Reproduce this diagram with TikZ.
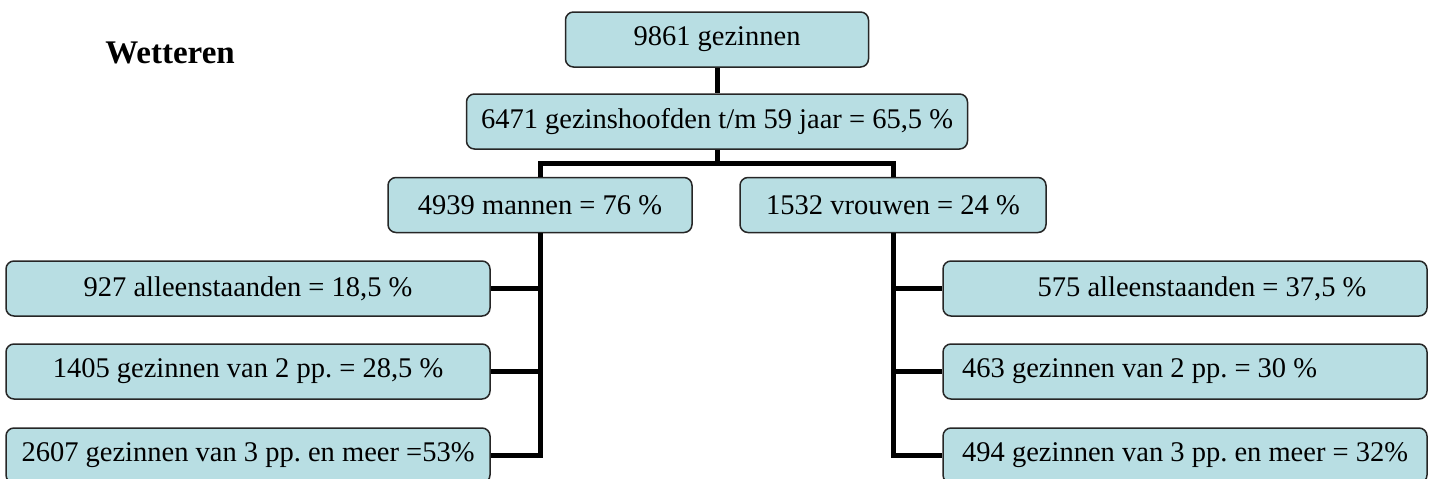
\documentclass[tikz,border=0pt]{standalone}
\usepackage{fontspec}
\setmainfont{Liberation Serif}
\frenchspacing
\definecolor{gezinblauw}{RGB}{184,222,227}
\tikzset{
	gezin/.style={draw=black!85, line width=1.5pt, fill=gezinblauw, rounded corners=8pt,
		minimum height=55pt, inner sep=0pt, font=\fontsize{28.5}{33}\selectfont},
	leaf/.style={gezin, minimum width=484pt},
	tekst/.style={inner sep=0pt, font=\fontsize{28.5}{33}\selectfont},
	tak/.style={line width=5pt},
}

\begin{document}
\begin{tikzpicture}[x=1pt, y=-1pt]

	% page in pixels, y going down
	\useasboundingbox (0,0) rectangle (1437,479);

	\node[font=\bfseries\fontsize{33}{38}\selectfont] (titel) at (170,53) {Wetteren};

	% the upper part of the tree
	\node[gezin, minimum width=303pt] (totaal) at (717,39.5) {9861 gezinnen};
	\node[gezin, minimum width=501pt] (hoofden) at (717,121.5) {6471 gezinshoofden t/m 59 jaar = 65,5 \%};
	\node[gezin, minimum width=304pt] (mannen) at (540,205) {4939 mannen = 76 \%};
	\node[gezin, minimum width=306pt] (vrouwen) at (893,205) {1532 vrouwen = 24 \%};

	% men, left column
	\node[leaf] (m1) at (248,288.5) {927 alleenstaanden = 18,5 \%};
	\node[leaf] (m2) at (248,371.5) {1405 gezinnen van 2 pp. = 28,5 \%};
	\node[leaf] (m3) at (248,455.5) {2607 gezinnen van 3 pp. en meer =53\%};

	% women, right column
	\node[leaf] (v1) at (1185,288.5) {};
	\node[tekst] (v1t) at (1202,288.5) {575 alleenstaanden = 37,5 \%};
	\node[leaf] (v2) at (1185,371.5) {};
	\node[tekst, anchor=west] (v2t) at (962,371.5) {463 gezinnen van 2 pp. = 30 \%};
	\node[leaf] (v3) at (1185,455.5) {};
	\node[tekst, anchor=west] (v3t) at (962,455.5) {494 gezinnen van 3 pp. en meer = 32\%};

	% connectors
	\draw[tak] (totaal.south) -- (hoofden.north);
	\draw[tak] (hoofden.south) -- ++(0,14) coordinate (splits);
	\draw[tak] (splits) -| (mannen.north);
	\draw[tak] (splits) -| (vrouwen.north);

	\foreach \k in {1,2,3}
		\draw[tak] (mannen.south) |- (m\k.east);
	\foreach \k in {1,2,3}
		\draw[tak] (vrouwen.south) |- (v\k.west);

\end{tikzpicture}
\end{document}
